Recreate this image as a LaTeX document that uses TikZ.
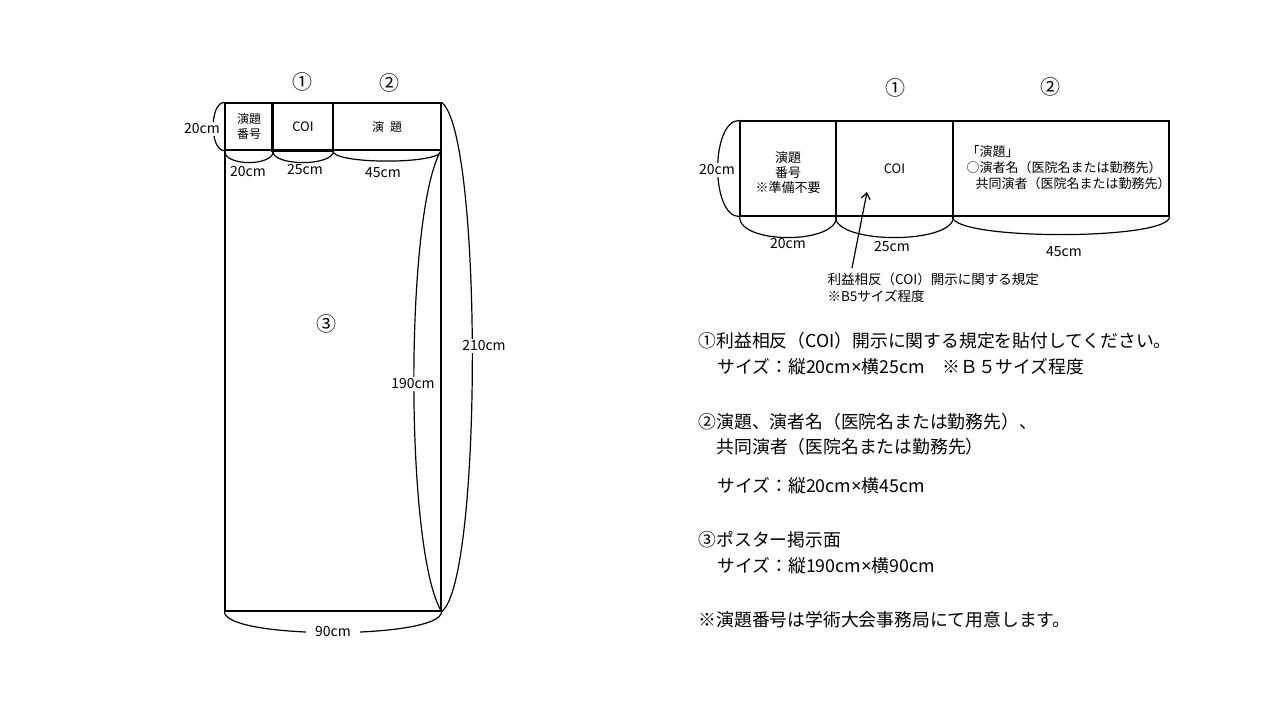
\documentclass[tikz,border=0pt]{standalone}
\usepackage{fontspec}
\setmainfont{Noto Sans CJK JP}
\newfontfamily\latinfont{Noto Sans}
\newcommand\bytimes{{\latinfont ×}}
\usetikzlibrary{arrows.meta}

\begin{document}
\begin{tikzpicture}[x=1pt,y=-1pt,>={Straight Barb[length=6pt,width=9pt]},line width=1.2pt]
  \tikzset{cell/.style={draw,rectangle,inner sep=0pt,align=center,font=\fontsize{12}{15}\selectfont},
    dim/.style={inner sep=1.5pt,font=\fontsize{14}{16}\selectfont},
    cut/.style={dim,fill=white},
    num/.style={inner sep=0pt,font=\fontsize{20}{22}\selectfont},
    box text/.style={anchor=west,align=left,inner sep=0pt,font=\fontsize{13}{16}\selectfont},
    note/.style={anchor=west,inner sep=0pt,font=\fontsize{17.8}{20}\selectfont}}
  \fill[white] (0,0) rectangle (1280,720);
  \useasboundingbox (0,0) rectangle (1280,720);
  \node[cell,minimum width=48,minimum height=47]   (lnum)    at (249,126.5) {演題\\番号};
  \node[cell,minimum width=60,minimum height=47]   (lcoi)    at (303,126.5) {\fontsize{13}{15}\selectfont COI};
  \node[cell,minimum width=108,minimum height=47]  (ltitle)  at (387,126.5) {演\hspace{0.5em}題};
  \node[cell,minimum width=216,minimum height=461] (lposter) at (333,380.5) {};
  \draw[line width=2.2pt] (lcoi.north west) -- (lcoi.south west) -- (lcoi.south east);
  \node[num] (lone)   at (302,82)  {①};
  \node[num] (ltwo)   at (389,83)  {②};
  \node[num] (lthree) at (326,324) {③};
  \draw (lnum.north west) .. controls +(-15,0) and +(-15,0) .. (lnum.south west);
  \draw (lnum.south west) .. controls +(0,16) and +(0,16) .. (lnum.south east);
  \draw (lcoi.south west) .. controls +(0,16) and +(0,16) .. (lcoi.south east);
  \draw (ltitle.south west) .. controls +(0,14) and +(0,14) .. (ltitle.south east);
  \draw (lposter.north east) .. controls +(-37,60) and +(-37,-60) .. (lposter.south east);
  \draw (ltitle.north east) .. controls +(41,30) and +(41,-30) .. (lposter.south east);
  \draw (lposter.south west) .. controls +(0,28) and +(0,28) .. (lposter.south east);
  \node[cut] (lh20)  at (202,129) {20cm};
  \node[dim] (lw20)  at (248,172) {20cm};
  \node[dim] (lw25)  at (305,170) {25cm};
  \node[dim] (lw45)  at (383,173) {45cm};
  \node[cut] (lh190) at (413,384) {190cm};
  \node[cut] (lh210) at (484,346) {210cm};
  \node[cut,inner xsep=9pt] (lw90) at (333,632) {90cm};

  \node[cell,minimum width=96,minimum height=95]  (rnum)   at (788,168.5) {};
  \node[cell,minimum width=117,minimum height=95] (rcoi)   at (894.5,168.5) {\fontsize{13}{15}\selectfont COI};
  \node[cell,minimum width=216,minimum height=95] (rtitle) at (1061,168.5) {};
  \node[align=center,inner sep=0pt,font=\fontsize{13}{15}\selectfont] (rnumtext) at (788,173) {演題\\番号\\※準備不要};
  \node[box text] (rtitletext) at (966,168) {「演題」\\○演者名（医院名または勤務先）\\\hspace{0.7em}共同演者（医院名または勤務先）};
  \node[num] (rone) at (895,88) {①};
  \node[num] (rtwo) at (1050,87) {②};
  \draw (rnum.north west) .. controls +(-29,0) and +(-29,0) .. (rnum.south west);
  \draw (rnum.south west) .. controls +(0,28) and +(0,28) .. (rnum.south east);
  \draw (rcoi.south west) .. controls +(0,28) and +(0,28) .. (rcoi.south east);
  \draw (rtitle.south west) .. controls +(0,24) and +(0,24) .. (rtitle.south east);
  \node[cut] (rh20) at (717,170) {20cm};
  \node[dim] (rw20) at (788,244) {20cm};
  \node[dim] (rw25) at (892,247) {25cm};
  \node[dim] (rw45) at (1064,252) {45cm};
  \coordinate (rtail) at (852,268);
  \coordinate (rtip)  at (867,192);
  \draw[->] (rtail) -- (rtip);
  \node[box text,font=\fontsize{13.5}{17}\selectfont] (rnote) at (827,288) {利益相反（COI）開示に関する規定\\※B5サイズ程度};

  \node[note] (n1a) at (698,341) {①利益相反（COI）開示に関する規定を貼付してください。};
  \node[note] (n1b) at (717,367) {サイズ：縦20cm\bytimes 横25cm　※Ｂ５サイズ程度};
  \node[note] (n2a) at (698,422) {②演題、演者名（医院名または勤務先）、};
  \node[note] (n2b) at (716,447) {共同演者（医院名または勤務先）};
  \node[note] (n2c) at (717,486) {サイズ：縦20cm\bytimes 横45cm};
  \node[note] (n3a) at (698,540) {③ポスター掲示面};
  \node[note] (n3b) at (717,566) {サイズ：縦190cm\bytimes 横90cm};
  \node[note] (n4)  at (698,620) {※演題番号は学術大会事務局にて用意します。};
\end{tikzpicture}
\end{document}
